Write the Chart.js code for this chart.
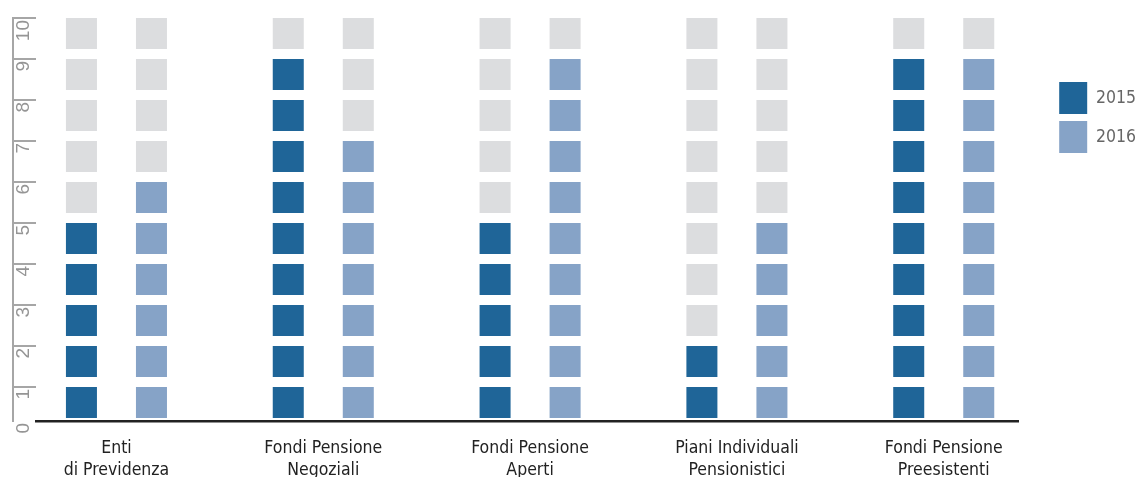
<!DOCTYPE html>
<html>
<head>
<meta charset="utf-8">
<script src="https://cdn.jsdelivr.net/npm/chart.js@4.4.1/dist/chart.umd.min.js"></script>
<style>
html,body{margin:0;padding:0;background:#ffffff;}
#wrap{width:1136px;height:477px;position:relative;overflow:hidden;}
</style>
</head>
<body>
<div id="wrap"><canvas id="c" width="1136" height="477"></canvas></div>
<script>
// ---- data ----
const categories = [
  ['Enti', 'di Previdenza'],
  ['Fondi Pensione', 'Negoziali'],
  ['Fondi Pensione', 'Aperti'],
  ['Piani Individuali', 'Pensionistici'],
  ['Fondi Pensione', 'Preesistenti']
];
const seriesNames = ['2015', '2016'];
const values2015 = [5, 9, 5, 2, 9];
const values2016 = [6, 7, 9, 5, 9];
const yTickLabels = ['0', '1', '2', '3', '4', '5', '6', '7', '8', '9', '10'];
const levels = [1, 2, 3, 4, 5, 6, 7, 8, 9, 10];

// ---- styles ----
const COLORS = ['#1f6598', '#86a3c7'];
const EMPTY = '#dcdddf';
const NARROW = "'DejaVu Sans Condensed', 'Liberation Sans', sans-serif";
const REGULAR = "'Liberation Sans', Arial, sans-serif";
const SQUARE = 31 / 41; // square height in value units

const seriesValues = [values2015, values2016];
const datasets = [];
seriesValues.forEach((vals, s) => {
  levels.forEach(k => {
    datasets.push({
      label: seriesNames[s],
      stack: seriesNames[s],
      data: categories.map((_, i) => ({ x: i, y: [k - SQUARE, k] })),
      backgroundColor: vals.map(v => (v >= k ? COLORS[s] : EMPTY)),
      borderWidth: 0,
      barPercentage: 31 / 70,
      categoryPercentage: 140 / 206.75
    });
  });
});

new Chart(document.getElementById('c'), {
  type: 'bar',
  data: { datasets },
  options: {
    responsive: false,
    animation: false,
    devicePixelRatio: 1,
    layout: { padding: { top: 18, left: 0, right: -10, bottom: 0 } },
    plugins: {
      tooltip: { enabled: false },
      legend: {
        position: 'right',
        align: 'start',
        title: { display: true, text: ' ', font: { size: 10 }, padding: { top: 45, bottom: 0 } },
        labels: {
          boxWidth: 28,
          boxHeight: 32,
          padding: 7,
          color: '#333333',
          font: { family: NARROW, size: 17.5 },
          generateLabels: () => seriesNames.map((n, s) => ({
            text: n, fillStyle: COLORS[s], strokeStyle: COLORS[s], lineWidth: 0,
            hidden: false, datasetIndex: s * levels.length
          }))
        },
        onClick: () => {}
      }
    },
    scales: {
      x: {
        type: 'linear',
        offset: false,
        stacked: true,
        min: -0.389,
        max: 4.36,
        afterBuildTicks: s => { s.ticks = categories.map((_, i) => ({ value: i })); },
        afterFit: s => { s.height = 56; },
        grid: { display: false, drawTicks: false, tickLength: 0 },
        border: { display: true, color: '#222222', width: 2.5 },
        ticks: {
          autoSkip: false, maxRotation: 0, minRotation: 0, padding: 16,
          color: '#222222',
          font: { family: NARROW, size: 17.5, lineHeight: 1.257 },
          callback: v => categories[v]
        }
      },
      y: {
        type: 'linear',
        position: 'left',
        weight: 1,
        stacked: false,
        min: 10 - 403 / 41,
        max: 10,
        afterBuildTicks: s => { s.ticks = yTickLabels.map((_, i) => ({ value: i === 0 ? s.min : i })); },
        afterFit: s => { s.width = 23; },
        grid: {
          display: true, drawOnChartArea: false, drawTicks: true, tickLength: 23, lineWidth: 2,
          color: c => (c.index === 0 ? 'rgba(0,0,0,0)' : '#a6a6a6')
        },
        border: { display: false },
        ticks: {
          minRotation: 90, maxRotation: 90, padding: -11, labelOffset: 2,
          color: '#959595',
          font: { family: REGULAR, size: 19 },
          callback: (v, i) => yTickLabels[i]
        }
      },
      yLine: {
        type: 'linear',
        position: 'left',
        weight: 2,
        display: true,
        afterFit: s => { s.width = 13; },
        grid: { display: false, drawTicks: false },
        ticks: { display: false },
        border: { display: true, color: '#a6a6a6', width: 2 }
      },
      yPad: {
        type: 'linear',
        position: 'right',
        display: true,
        afterFit: s => { s.width = 34; },
        grid: { display: false, drawTicks: false },
        ticks: { display: false },
        border: { display: false }
      }
    }
  }
});
</script>
</body>
</html>
